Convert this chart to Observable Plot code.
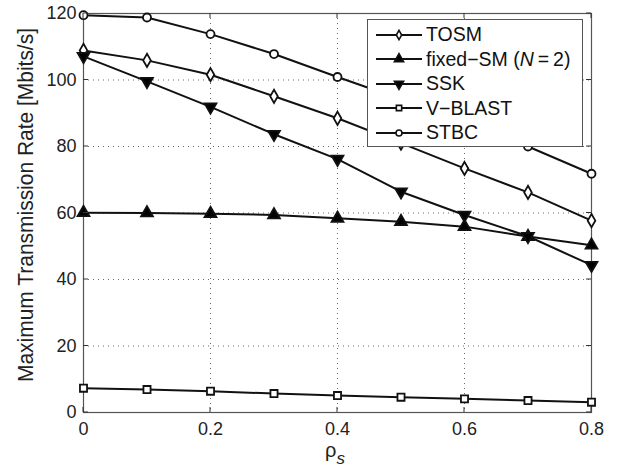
<!DOCTYPE html>
<html><head><meta charset="utf-8">
<script src="https://cdn.jsdelivr.net/npm/d3@7"></script>
<script src="https://cdn.jsdelivr.net/npm/@observablehq/plot@0.6"></script>
<style>
body{margin:0;background:#fff;}
#wrap{position:relative;width:617px;height:471px;font-family:"Liberation Sans",Arial,sans-serif;}
#legend{position:absolute;left:367px;top:19px;width:216px;height:128px;border:1px solid #555;background:#fff;box-sizing:border-box;}
.row{position:absolute;left:0;height:24px;display:flex;align-items:center;font-size:19.5px;color:#111;}
.row svg{margin-left:7px;margin-right:4px;}
</style>
</head><body>
<div id="wrap"></div>
<script>
const rho = [0, 0.1, 0.2, 0.3, 0.4, 0.5, 0.6, 0.7, 0.8];
const tosm = [108.9, 105.9, 101.6, 95.1, 88.5, 81.0, 73.4, 66.2, 57.7];
const fixedSM = [60.1, 60.0, 59.8, 59.4, 58.4, 57.4, 55.9, 52.9, 50.3];
const ssk = [107.1, 99.6, 91.9, 83.7, 76.2, 66.4, 59.4, 53.0, 44.3];
const vblast = [7.3, 6.9, 6.4, 5.7, 5.1, 4.6, 4.1, 3.6, 3.1];
const stbc = [119.5, 118.8, 113.8, 107.8, 100.9, 94.2, 87.2, 80.0, 71.8];
const seriesNames = ["TOSM", "fixed-SM", "SSK", "V-BLAST", "STBC"];
const xTicks = [0, 0.2, 0.4, 0.6, 0.8];
const yTicks = [0, 20, 40, 60, 80, 100, 120];

const triDown = {
  draw(ctx, size) {
    const y = -Math.sqrt(size / (Math.sqrt(3) * 3));
    ctx.moveTo(0, -y * 2);
    ctx.lineTo(-Math.sqrt(3) * y, y);
    ctx.lineTo(Math.sqrt(3) * y, y);
    ctx.closePath();
  }
};
const styles = {
  "TOSM": {symbol: d3.symbolDiamond, fill: "white", r: 4.0, lr: 2.8},
  "fixed-SM": {symbol: d3.symbolTriangle, fill: "black", r: 4.4, lr: 3.4},
  "SSK": {symbol: triDown, fill: "black", r: 4.4, lr: 3.4},
  "V-BLAST": {symbol: d3.symbolSquare, fill: "white", r: 4.0, lr: 3.0},
  "STBC": {symbol: d3.symbolCircle, fill: "white", r: 4.0, lr: 3.0}
};
const vals = [tosm, fixedSM, ssk, vblast, stbc];
const data = [];
seriesNames.forEach((s, i) => rho.forEach((x, j) => data.push({series: s, x, y: vals[i][j]})));

const marks = [
  Plot.gridX(xTicks.slice(1, -1), {stroke: "#444", strokeOpacity: 0.8, strokeDasharray: "1,4"}),
  Plot.gridY(yTicks.slice(1, -1), {stroke: "#444", strokeOpacity: 0.8, strokeDasharray: "1,4"}),
  Plot.axisX({ticks: xTicks, tickSize: 0, tickPadding: 10, tickFormat: d => String(d), label: null}),
  Plot.axisY({ticks: yTicks, tickSize: 0, tickPadding: 7, label: null}),
  Plot.frame({stroke: "#555", strokeWidth: 1.2})
];
seriesNames.forEach(s => {
  const d = data.filter(e => e.series === s);
  marks.push(Plot.line(d, {x: "x", y: "y", stroke: "#111", strokeWidth: 2}));
});
seriesNames.forEach(s => {
  const d = data.filter(e => e.series === s);
  const st = styles[s];
  marks.push(Plot.dot(d, {x: "x", y: "y", symbol: () => st.symbol, r: st.r, fill: st.fill, stroke: "#111", strokeWidth: 1.8}));
});

const chart = Plot.plot({
  width: 617, height: 471,
  marginLeft: 83, marginRight: 26, marginTop: 13, marginBottom: 59,
  style: {fontFamily: "Liberation Sans, Arial, sans-serif", fontSize: "18px", color: "#222", background: "white"},
  x: {domain: [0, 0.8]},
  y: {domain: [0, 120]},
  symbol: {type: "identity"},
  marks
});
document.getElementById("wrap").appendChild(chart);

// inward ticks and labels
const svg = d3.select(chart);
const xs = chart.scale("x"), ys = chart.scale("y");
const g = svg.append("g").attr("stroke", "#333").attr("stroke-width", 1);
xTicks.forEach(t => {
  const px = xs.apply(t);
  g.append("line").attr("x1", px).attr("x2", px).attr("y1", ys.apply(0)).attr("y2", ys.apply(0) - 5);
  g.append("line").attr("x1", px).attr("x2", px).attr("y1", ys.apply(120)).attr("y2", ys.apply(120) + 5);
});
yTicks.forEach(t => {
  const py = ys.apply(t);
  g.append("line").attr("y1", py).attr("y2", py).attr("x1", xs.apply(0)).attr("x2", xs.apply(0) + 5);
  g.append("line").attr("y1", py).attr("y2", py).attr("x1", xs.apply(0.8)).attr("x2", xs.apply(0.8) - 5);
});
svg.append("text")
  .attr("transform", `translate(33,205) rotate(-90)`)
  .attr("text-anchor", "middle").attr("style", "font-size:22.5px;fill:#222")
  .attr("textLength", 354).attr("lengthAdjust", "spacingAndGlyphs")
  .text("Maximum Transmission Rate [Mbits/s]");
const xl = svg.append("text")
  .attr("x", 325).attr("y", 457)
  .attr("text-anchor", "start").attr("style", "font-size:20px;fill:#222");
xl.append("tspan").text("ρ");
xl.append("tspan").attr("style", "font-style:italic;font-size:17px").attr("dy", 7).text("s");

// legend
const legend = document.createElement("div");
legend.id = "legend";
const labels = ["TOSM", null, "SSK", "V\u2212BLAST", "STBC"];
seriesNames.forEach((s, i) => {
  const row = document.createElement("div");
  row.className = "row";
  row.style.top = (2.5 + i * 24.6) + "px";
  const st = styles[s];
  const sw = d3.create("svg").attr("width", 47).attr("height", 20);
  sw.append("line").attr("x1", 1).attr("x2", 47).attr("y1", 10).attr("y2", 10).attr("stroke", "#111").attr("stroke-width", 2);
  sw.append("path").attr("transform", "translate(24,10)")
    .attr("d", d3.symbol(st.symbol, Math.PI * st.lr * st.lr)())
    .attr("fill", st.fill).attr("stroke", "#111").attr("stroke-width", 1.6);
  row.appendChild(sw.node());
  const span = document.createElement("span");
  if (s === "fixed-SM") span.innerHTML = "fixed\u2212SM (<i>N</i>\u2009=\u20092)";
  else span.textContent = labels[i];
  row.appendChild(span);
  legend.appendChild(row);
});
document.getElementById("wrap").appendChild(legend);
</script>
</body></html>
